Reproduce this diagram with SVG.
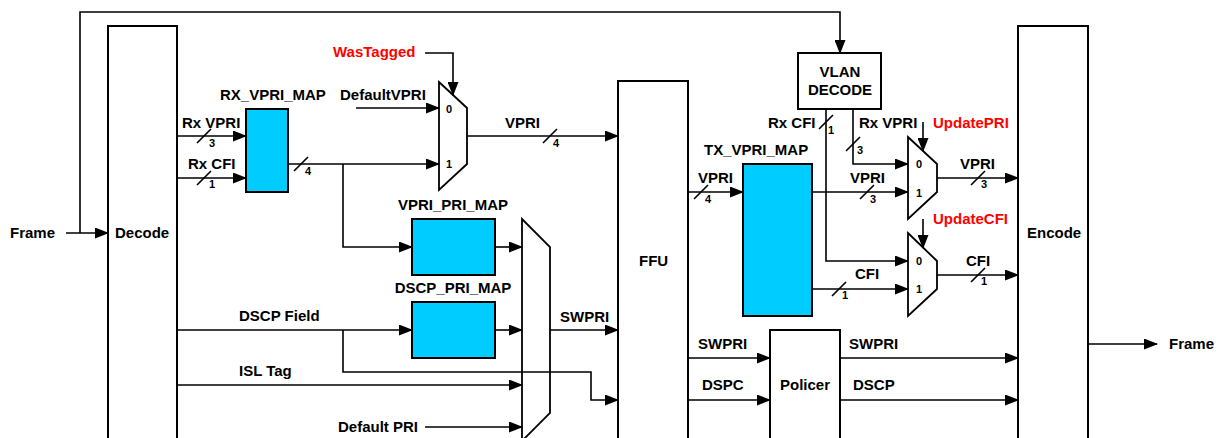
<svg xmlns="http://www.w3.org/2000/svg" width="1220" height="438" viewBox="0 0 1220 438">
<style>
text{font-family:"Liberation Sans",Arial,sans-serif;font-weight:bold;font-size:15px;fill:#000}
.red{fill:#FF0000}
.sm{font-size:11px}
.mid{text-anchor:middle}
.box{fill:#fff;stroke:#000;stroke-width:2}
.map{fill:#00CCFF;stroke:#000;stroke-width:2}
.mux{fill:#fff;stroke:#000;stroke-width:1.8;stroke-linejoin:miter}
.w{fill:none;stroke:#000;stroke-width:1.6}
.sl{stroke:#000;stroke-width:1.6}
</style>
<defs>
<marker id="a" markerUnits="userSpaceOnUse" markerWidth="14" markerHeight="11" refX="13" refY="5.5" orient="auto">
<path d="M0,0 L14,5.5 L0,11 z" fill="#000"/>
</marker>
</defs>

<g id="decode"><rect class="box" x="108" y="26" width="69" height="430"/><text x="115" y="238">Decode</text></g>
<g id="rx_vpri_map"><rect class="map" x="246" y="109" width="42" height="83"/><text x="220" y="100">RX_VPRI_MAP</text></g>
<g id="mux_vpri"><path class="mux" d="M439,82 L467,108 L467,164 L439,190 Z"/><text class="sm" x="446" y="113">0</text><text class="sm" x="446" y="168">1</text></g>
<g id="vpri_pri_map"><rect class="map" x="412" y="219" width="83" height="56"/><text class="mid" x="453" y="210">VPRI_PRI_MAP</text></g>
<g id="dscp_pri_map"><rect class="map" x="412" y="302" width="83" height="56"/><text class="mid" x="453" y="293">DSCP_PRI_MAP</text></g>
<g id="mux_swpri"><path class="mux" d="M522,219 L550,247 L550,413 L522,441 Z"/></g>
<g id="ffu"><rect class="box" x="618" y="81" width="70" height="375"/><text x="639" y="266">FFU</text></g>
<g id="vlan_decode"><rect class="box" x="798" y="53" width="83" height="56"/><text class="mid" x="840" y="77">VLAN</text><text class="mid" x="840" y="95">DECODE</text></g>
<g id="tx_vpri_map"><rect class="map" x="743" y="164" width="69" height="152"/><text x="704" y="155">TX_VPRI_MAP</text></g>
<g id="mux_pri"><path class="mux" d="M908,137 L937,164 L937,192 L908,219 Z"/><text class="sm" x="916" y="168">0</text><text class="sm" x="916" y="197">1</text></g>
<g id="mux_cfi"><path class="mux" d="M908,233 L937,261 L937,289 L908,316 Z"/><text class="sm" x="916" y="265">0</text><text class="sm" x="916" y="293">1</text></g>
<g id="policer"><rect class="box" x="770" y="330" width="70" height="126"/><text x="780" y="390">Policer</text></g>
<g id="encode"><rect class="box" x="1018" y="26" width="70" height="430"/><text x="1027" y="238">Encode</text></g>

<g id="connectors">
<path class="w" d="M80,233 L80,12 L840,12 L840,53" marker-end="url(#a)"/>
<path class="w" d="M66,233 L108,233" marker-end="url(#a)"/>
<path class="w" d="M177,136 L246,136" marker-end="url(#a)"/>
<path class="w" d="M177,178 L246,178" marker-end="url(#a)"/>
<path class="w" d="M288,164 L439,164" marker-end="url(#a)"/>
<path class="w" d="M343,164 L343,247 L412,247" marker-end="url(#a)"/>
<path class="w" d="M356,108 L439,108" marker-end="url(#a)"/>
<path class="w" d="M425,53 L453,53 L453,95" marker-end="url(#a)"/>
<path class="w" d="M467,136 L618,136" marker-end="url(#a)"/>
<path class="w" d="M495,247 L522,247" marker-end="url(#a)"/>
<path class="w" d="M495,330 L522,330" marker-end="url(#a)"/>
<path class="w" d="M177,330 L412,330" marker-end="url(#a)"/>
<path class="w" d="M343,330 L343,372 L591,372 L591,400 L618,400" marker-end="url(#a)"/>
<path class="w" d="M177,385 L522,385" marker-end="url(#a)"/>
<path class="w" d="M425,427 L522,427" marker-end="url(#a)"/>
<path class="w" d="M550,330 L618,330" marker-end="url(#a)"/>
<path class="w" d="M688,192 L743,192" marker-end="url(#a)"/>
<path class="w" d="M688,358 L770,358" marker-end="url(#a)"/>
<path class="w" d="M688,400 L770,400" marker-end="url(#a)"/>
<path class="w" d="M840,358 L1018,358" marker-end="url(#a)"/>
<path class="w" d="M840,400 L1018,400" marker-end="url(#a)"/>
<path class="w" d="M826,109 L826,261 L908,261" marker-end="url(#a)"/>
<path class="w" d="M853,109 L853,164 L908,164" marker-end="url(#a)"/>
<path class="w" d="M812,192 L908,192" marker-end="url(#a)"/>
<path class="w" d="M812,289 L908,289" marker-end="url(#a)"/>
<path class="w" d="M923,122 L923,151" marker-end="url(#a)"/>
<path class="w" d="M923,219 L923,248" marker-end="url(#a)"/>
<path class="w" d="M937,178 L1018,178" marker-end="url(#a)"/>
<path class="w" d="M937,275 L1018,275" marker-end="url(#a)"/>
<path class="w" d="M1088,344 L1157,344" marker-end="url(#a)"/>
<!-- bus slashes -->
<path class="sl" d="M197,143 L211,129 M197,185 L211,171 M294,171 L308,157 M543,143 L557,129 M694,199 L708,185 M819,129 L833,115 M846,151 L860,137 M860,199 L874,185 M971,185 L985,171 M832,296 L846,282 M971,282 L985,268"/>
</g>

<g id="labels">
<text x="10" y="238">Frame</text>
<text class="red" x="333" y="57">WasTagged</text>
<text x="340" y="100">DefaultVPRI</text>
<text x="182" y="128">Rx VPRI</text>
<text class="sm" x="209" y="147">3</text>
<text x="188" y="169">Rx CFI</text>
<text class="sm" x="209" y="188">1</text>
<text class="sm" x="305" y="175">4</text>
<text x="505" y="128">VPRI</text>
<text class="sm" x="553" y="147">4</text>
<text x="698" y="183">VPRI</text>
<text class="sm" x="705" y="203">4</text>
<text x="768" y="128">Rx CFI</text>
<text class="sm" x="828" y="134">1</text>
<text x="859" y="128">Rx VPRI</text>
<text class="sm" x="857" y="154">3</text>
<text class="red" x="933" y="128">UpdatePRI</text>
<text x="960" y="169">VPRI</text>
<text class="sm" x="981" y="188">3</text>
<text x="850" y="183">VPRI</text>
<text class="sm" x="870" y="203">3</text>
<text class="red" x="933" y="224">UpdateCFI</text>
<text x="966" y="266">CFI</text>
<text class="sm" x="981" y="285">1</text>
<text x="855" y="279">CFI</text>
<text class="sm" x="842" y="299">1</text>
<text x="1169" y="349">Frame</text>
<text x="849" y="349">SWPRI</text>
<text x="853" y="390">DSCP</text>
<text x="698" y="349">SWPRI</text>
<text x="702" y="390">DSPC</text>
<text x="560" y="322">SWPRI</text>
<text x="239" y="321">DSCP Field</text>
<text x="239" y="376">ISL Tag</text>
<text x="338" y="432">Default PRI</text>
</g>
</svg>
